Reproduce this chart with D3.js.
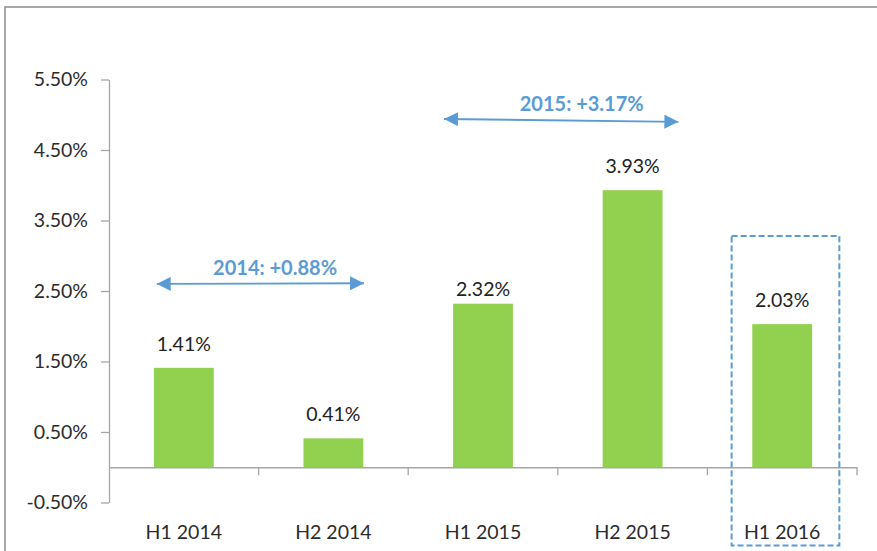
<!DOCTYPE html>
<html>
<head>
<meta charset="utf-8">
<script src="https://cdn.jsdelivr.net/npm/d3@7"></script>
<style>
  html, body { margin: 0; padding: 0; background: #fff; }
  svg { display: block; }
</style>
</head>
<body>
<svg id="chart" width="877" height="551"></svg>
<script>
// ---- data ----
const categories = ["H1 2014", "H2 2014", "H1 2015", "H2 2015", "H1 2016"];
const values = [1.41, 0.41, 2.32, 3.93, 2.03];
const valueLabels = ["1.41%", "0.41%", "2.32%", "3.93%", "2.03%"];
const yTicks = [-0.5, 0.5, 1.5, 2.5, 3.5, 4.5, 5.5];
const yTickLabels = ["-0.50%", "0.50%", "1.50%", "2.50%", "3.50%", "4.50%", "5.50%"];
// annotations: spans in category-index units, level in percent units
const spanLabels = ["2014: +0.88%", "2015: +3.17%"];
const spanFrom = [0.319, 2.239];
const spanTo = [1.705, 3.806];
const spanLevelStart = [2.60, 4.94];
const spanLevelEnd = [2.61, 4.90];
const spanTextAt = [1.11, 3.16];
const highlightFrom = 4.162, highlightTo = 4.882;
const highlightTop = 3.28, highlightBottom = -1.11;

// ---- layout ----
(function () {
const svg = d3.select("#chart");
const mLeft = 109, mRight = 857, mTop = 79.5, mBottom = 502.5;
const font = "Lato, 'Open Sans', sans-serif";
const fs = 19.5;
const blue = "#5B9BD5";
const green = "#92D050";
const axisColor = "#a6a6a6";

const y = d3.scaleLinear().domain([-0.5, 5.5]).range([mBottom, mTop]);
const x = d3.scaleBand().domain(categories).range([mLeft, mRight]).padding(0);
const xc = d3.scaleLinear().domain([0, categories.length]).range([mLeft, mRight]);

// outer frame (left + top edges visible)
svg.append("rect")
  .attr("x", 5).attr("y", 7).attr("width", 900).attr("height", 600)
  .attr("fill", "none").attr("stroke", "#8c8c8c").attr("stroke-width", 1.5);

// y axis
const yAxis = d3.axisLeft(y)
  .tickValues(yTicks)
  .tickFormat((d, i) => yTickLabels[i])
  .tickSize(8).tickSizeOuter(0).tickPadding(13);
const gy = svg.append("g").attr("transform", `translate(${mLeft},0)`).call(yAxis);
gy.select(".domain").attr("stroke", axisColor).attr("stroke-width", 1.3);
gy.selectAll(".tick line").attr("stroke", axisColor).attr("stroke-width", 1.3);
gy.selectAll(".tick text").attr("font-family", font).attr("font-size", fs).attr("fill", "#2b2b2b");

// x axis (at zero)
const y0 = y(0);
const xAxis = d3.axisBottom(x).tickValues([]).tickSizeOuter(0);
const gx = svg.append("g").attr("transform", `translate(0,${y0})`).call(xAxis);
gx.select(".domain").attr("stroke", axisColor).attr("stroke-width", 1.5);
const boundaries = d3.range(1, categories.length + 1);
gx.selectAll("line.bt").data(boundaries).enter().append("line")
  .attr("class", "bt")
  .attr("x1", d => xc(d)).attr("x2", d => xc(d))
  .attr("y1", 0).attr("y2", 8)
  .attr("stroke", axisColor).attr("stroke-width", 1.3);

// category labels
svg.append("g").selectAll("text").data(categories).enter().append("text")
  .attr("x", d => x(d) + x.bandwidth() / 2)
  .attr("y", 539)
  .attr("text-anchor", "middle")
  .attr("font-family", font).attr("font-size", fs).attr("fill", "#2b2b2b")
  .text(d => d);

// bars
const barW = x.bandwidth() * 0.4;
svg.append("g").selectAll("rect").data(values).enter().append("rect")
  .attr("x", (d, i) => x(categories[i]) + (x.bandwidth() - barW) / 2)
  .attr("y", d => y(Math.max(0, d)))
  .attr("width", barW)
  .attr("height", d => Math.abs(y(d) - y0))
  .attr("fill", green);

// value labels
svg.append("g").selectAll("text").data(values).enter().append("text")
  .attr("x", (d, i) => x(categories[i]) + x.bandwidth() / 2)
  .attr("y", (d, i) => y(d) - (categories[i] === "H1 2015" ? 8 : 17))
  .attr("text-anchor", "middle")
  .attr("font-family", font).attr("font-size", fs).attr("fill", "#222")
  .text((d, i) => valueLabels[i]);

// span arrows
const defs = svg.append("defs");
["start", "end"].forEach(k => {
  defs.append("marker")
    .attr("id", "ah-" + k)
    .attr("viewBox", "0 0 14 14")
    .attr("refX", 14).attr("refY", 7)
    .attr("markerWidth", 14).attr("markerHeight", 14)
    .attr("markerUnits", "userSpaceOnUse")
    .attr("orient", k === "end" ? "auto" : "auto-start-reverse")
    .append("path")
    .attr("d", "M0,0 L14,7 L0,14 Z")
    .attr("fill", blue);
});
spanLabels.forEach((lbl, i) => {
  svg.append("line")
    .attr("x1", xc(spanFrom[i])).attr("x2", xc(spanTo[i]))
    .attr("y1", y(spanLevelStart[i])).attr("y2", y(spanLevelEnd[i]))
    .attr("stroke", blue).attr("stroke-width", 1.8)
    .attr("marker-start", "url(#ah-start)")
    .attr("marker-end", "url(#ah-end)");
  svg.append("text")
    .attr("x", xc(spanTextAt[i]))
    .attr("y", y(Math.max(spanLevelStart[i], spanLevelEnd[i])) - 8)
    .attr("text-anchor", "middle")
    .attr("font-family", font).attr("font-weight", "bold").attr("font-size", 20)
    .attr("fill", blue)
    .text(lbl);
});

// highlight dashed box
svg.append("rect")
  .attr("x", xc(highlightFrom)).attr("y", y(highlightTop))
  .attr("width", xc(highlightTo) - xc(highlightFrom))
  .attr("height", y(highlightBottom) - y(highlightTop))
  .attr("fill", "none").attr("stroke", blue).attr("stroke-width", 2)
  .attr("stroke-dasharray", "6,3");
})();
</script>
</body>
</html>
